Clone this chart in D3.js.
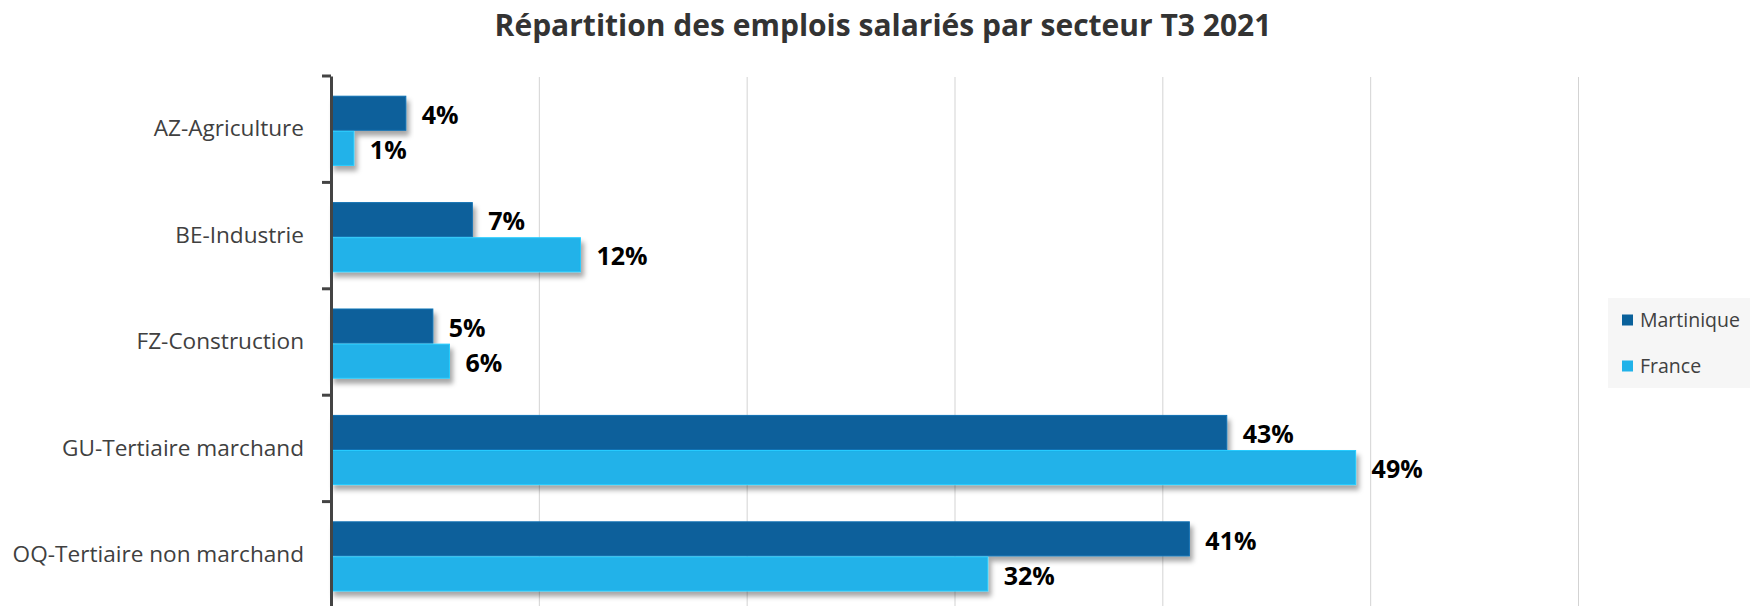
<!DOCTYPE html>
<html>
<head>
<meta charset="utf-8">
<script src="https://cdn.jsdelivr.net/npm/d3@7"></script>
<style>
    body { margin: 0; background: #fff; }
    svg { display: block; font-family: "Open Sans", "Noto Sans", sans-serif; }
</style>
</head>
<body>
<svg id="chart" width="1750" height="606"></svg>
<script>
// chart data (share of salaried jobs, %)
var categories = ["AZ-Agriculture", "BE-Industrie", "FZ-Construction", "GU-Tertiaire marchand", "OQ-Tertiaire non marchand"];
var series = ["Martinique", "France"];
var martinique = [3.6, 6.8, 4.9, 43.1, 41.3];
var france = [1.1, 12.0, 5.7, 49.3, 31.6];
var xTicks = [0, 10, 20, 30, 40, 50, 60];
var colors = ["#0a619b", "#20b2e9"];

var title = "Répartition des emplois salariés par secteur T3 2021";
var def_numForm = d3.format(".0f");

function draw() {
    var svg = d3.select("#chart");
    var width = 1750;
    var height = 606;
    var pad_left = 331;
    var pad_right = 172;
    var pad_top = 76;
    var pad_bot = -2;

    var rows = categories.map(function (c, i) {
        return {name: c, values: [martinique[i], france[i]]};
    });

    // drop shadow under the bars
    var defs = svg.append("defs");
    var filt = defs.append("filter").attr("id", "shadow")
            .attr("x", "-5%").attr("y", "-30%").attr("width", "115%").attr("height", "180%");
    filt.append("feDropShadow")
            .attr("dx", 3).attr("dy", 5)
            .attr("stdDeviation", 2.5)
            .attr("flood-color", "#000")
            .attr("flood-opacity", 0.35);

    var xScale = d3.scaleLinear().domain([0, 60]).range([pad_left, width - pad_right]);
    var yScale = d3.scaleBand().domain(categories).range([pad_top, height - pad_bot]);
    var bw = yScale.bandwidth();
    var ySub = d3.scaleBand().domain(series).range([bw * 0.19, bw * 0.84]).paddingInner(0.03);

    // title
    svg.append("text")
            .attr("x", 883).attr("y", 36)
            .attr("text-anchor", "middle")
            .style("font-size", "30px")
            .style("font-weight", "bold")
            .style("fill", "#333")
            .text(title);

    // vertical gridlines
    var xAxis = d3.axisBottom(xScale).tickValues(xTicks.slice(1))
            .tickSize(height - pad_top).tickFormat("");
    var grid = svg.append("g")
            .attr("class", "grid")
            .attr("transform", "translate(0," + (pad_top + 1) + ")")
            .call(xAxis);
    grid.select(".domain").remove();
    grid.selectAll("line").attr("stroke", "#d3d3d3").attr("stroke-width", 1);

    // bars
    var groups = svg.selectAll(".cat")
            .data(rows)
            .enter().append("g")
            .attr("class", "cat")
            .attr("transform", function (d) {
                return "translate(0," + yScale(d.name) + ")";
            });
    groups.append("g").attr("filter", "url(#shadow)")
            .selectAll("rect")
            .data(function (d) {
                return d.values.map(function (v, i) { return {s: series[i], v: v, i: i}; });
            })
            .enter().append("rect")
            .attr("x", xScale(0))
            .attr("y", function (d) { return ySub(d.s); })
            .attr("width", function (d) { return xScale(d.v) - xScale(0); })
            .attr("height", ySub.bandwidth())
            .attr("fill", function (d) { return colors[d.i]; })
            .attr("stroke", function (d) { return d3.color(colors[d.i]).brighter(0.4); })
            .attr("stroke-width", 1);

    // value labels
    groups.selectAll(".val")
            .data(function (d) {
                return d.values.map(function (v, i) { return {s: series[i], v: v, i: i}; });
            })
            .enter().append("text")
            .attr("class", "val")
            .attr("x", function (d) { return xScale(d.v) + 16; })
            .attr("y", function (d) { return ySub(d.s) + ySub.bandwidth() / 2 + 2; })
            .attr("dy", "0.35em")
            .style("font-size", "25px")
            .style("font-weight", "bold")
            .style("fill", "#000")
            .text(function (d) { return def_numForm(d.v) + "%"; });

    // category axis
    var yAxis = d3.axisLeft(yScale).tickSize(0).tickPadding(27);
    var ax = svg.append("g")
            .attr("class", "axis")
            .attr("transform", "translate(" + pad_left + ",0)")
            .call(yAxis);
    ax.select(".domain").attr("stroke", "#444").attr("stroke-width", 3);
    ax.selectAll("text")
            .style("font-size", "22.6px")
            .style("font-family", "\"Open Sans\", sans-serif")
            .style("fill", "#404040");
    var boundaries = categories.map(function (c) { return yScale(c); });
    ax.selectAll(".sep")
            .data(boundaries)
            .enter().append("line")
            .attr("class", "sep")
            .attr("x1", -9).attr("x2", 0)
            .attr("y1", function (d) { return d; })
            .attr("y2", function (d) { return d; })
            .attr("stroke", "#444").attr("stroke-width", 3);

    // legend
    var lg = svg.append("g").attr("transform", "translate(1608,298)");
    lg.append("rect")
            .attr("width", 150).attr("height", 90)
            .attr("fill", "#f6f6f6");
    var items = lg.selectAll(".item")
            .data(series)
            .enter().append("g")
            .attr("class", "item")
            .attr("transform", function (d, i) {
                return "translate(14," + (22 + i * 46) + ")";
            });
    items.append("rect")
            .attr("x", 0).attr("y", -5.5)
            .attr("width", 11).attr("height", 11)
            .attr("fill", function (d, i) { return colors[i]; });
    items.append("text")
            .attr("x", 18).attr("dy", "0.35em")
            .style("font-size", "19.5px")
            .style("fill", "#404040")
            .text(function (d) { return d; });
}
draw();
</script>
</body>
</html>
